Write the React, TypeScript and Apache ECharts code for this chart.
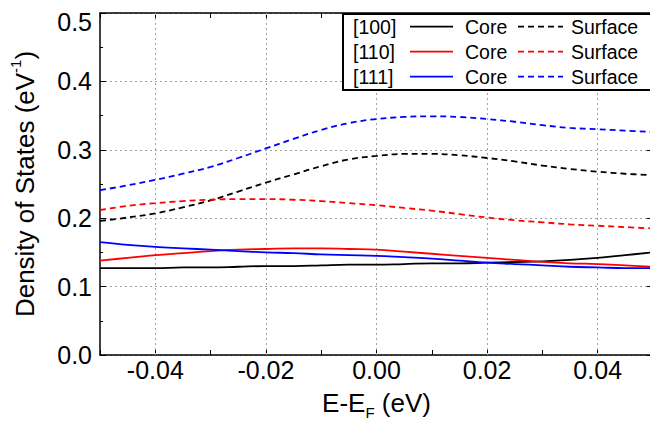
import React, { useEffect, useRef } from "react";
import * as echarts from "echarts";

// Energy grid (E - E_F, eV)
const X = [-0.05, -0.045, -0.04, -0.035, -0.03, -0.025, -0.02, -0.015, -0.01, -0.005, 0, 0.005, 0.01, 0.015, 0.02, 0.025, 0.03, 0.035, 0.04, 0.045, 0.05];

// Density of states (eV^-1)
const CORE_100 = [0.127, 0.127, 0.127, 0.128, 0.128, 0.129, 0.130, 0.130, 0.131, 0.132, 0.132, 0.133, 0.134, 0.134, 0.135, 0.136, 0.137, 0.139, 0.142, 0.146, 0.150];
const SURF_100 = [0.196, 0.201, 0.207, 0.216, 0.226, 0.239, 0.252, 0.264, 0.276, 0.286, 0.291, 0.294, 0.294, 0.292, 0.288, 0.283, 0.277, 0.272, 0.268, 0.265, 0.263];
const CORE_110 = [0.138, 0.142, 0.146, 0.149, 0.152, 0.154, 0.155, 0.156, 0.156, 0.155, 0.154, 0.151, 0.148, 0.145, 0.142, 0.139, 0.136, 0.134, 0.133, 0.131, 0.129];
const SURF_110 = [0.212, 0.218, 0.222, 0.225, 0.227, 0.228, 0.228, 0.227, 0.225, 0.222, 0.219, 0.215, 0.211, 0.206, 0.201, 0.197, 0.194, 0.191, 0.189, 0.187, 0.185];
const CORE_111 = [0.165, 0.161, 0.158, 0.156, 0.154, 0.152, 0.150, 0.149, 0.147, 0.146, 0.145, 0.143, 0.141, 0.138, 0.135, 0.133, 0.131, 0.129, 0.128, 0.127, 0.127];
const SURF_111 = [0.241, 0.248, 0.256, 0.265, 0.275, 0.288, 0.302, 0.316, 0.329, 0.339, 0.345, 0.348, 0.349, 0.348, 0.345, 0.341, 0.336, 0.332, 0.330, 0.328, 0.326];

const X_GRID = [-0.04, -0.02, 0, 0.02, 0.04];
const ORIENTATIONS = ["[100]", "[110]", "[111]"];
const KINDS = ["Core", "Surface"];
const COLORS = ["#000000", "#ff0000", "#0000ff"];

const FONT = "'Liberation Sans', Arial, sans-serif";

export default function App() {
  const ref = useRef<HTMLDivElement>(null);
  useEffect(() => {
    if (!ref.current) return;
    const chart = echarts.init(ref.current, undefined, { renderer: "svg" });
    const pairs = (ys: number[]) => X.map((x, i) => [x, ys[i]]);
    const groups = [
      [CORE_100, SURF_100],
      [CORE_110, SURF_110],
      [CORE_111, SURF_111],
    ];
    const series: any[] = [];
    groups.forEach((g, gi) => {
      g.forEach((ys, ki) => {
        series.push({
          name: `${ORIENTATIONS[gi]} ${KINDS[ki]}`,
          type: "line",
          data: pairs(ys),
          smooth: 0.4,
          showSymbol: false,
          symbol: "none",
          lineStyle: { color: COLORS[gi], width: 1.8, type: ki === 0 ? "solid" : [6, 4] },
          itemStyle: { color: COLORS[gi] },
          z: 5,
        });
      });
    });
    // vertical grid lines at major x ticks
    series.push({
      name: "xgrid",
      type: "line",
      data: [],
      z: 1,
      markLine: {
        silent: true,
        symbol: "none",
        animation: false,
        label: { show: false },
        lineStyle: { color: "#a0a0a0", width: 1, type: [2, 3] },
        data: X_GRID.map((v) => ({ xAxis: v })),
      },
    });

    const rowY = [26.7, 51.7, 76.7];
    const legendEls: any[] = [
      {
        type: "rect",
        shape: { x: 343, y: 14, width: 330, height: 76 },
        style: { fill: "#ffffff", stroke: "#000000", lineWidth: 2 },
        z: 100,
      },
    ];
    const tStyle = (text: string) => ({ text, fontSize: 19.5, fontFamily: FONT, fill: "#000", verticalAlign: "middle", align: "left" });
    ORIENTATIONS.forEach((o, i) => {
      const y = rowY[i];
      legendEls.push(
        { type: "text", x: 353, y, z: 101, style: tStyle(o) },
        { type: "line", z: 101, shape: { x1: 410, y1: y, x2: 453, y2: y }, style: { stroke: COLORS[i], lineWidth: 1.8 } },
        { type: "text", x: 465, y, z: 101, style: tStyle(KINDS[0]) },
        { type: "line", z: 101, shape: { x1: 518, y1: y, x2: 563, y2: y }, style: { stroke: COLORS[i], lineWidth: 1.8, lineDash: [6, 4] } },
        { type: "text", x: 571, y, z: 101, style: tStyle(KINDS[1]) }
      );
    });

    const xFmt = (v: number) => {
      const k = Math.round(v * 100);
      if (k % 2 !== 0 || Math.abs(k) >= 5) return "";
      if (k === 0) return "0.00";
      return (k / 100).toFixed(2);
    };
    const yFmt = (v: number) => {
      const s = v.toFixed(1);
      return Math.round(v * 10) === 5 ? `{t|${s}}` : s;
    };

    const axisLine = { show: true, onZero: false, lineStyle: { color: "#000", width: 1.5 } };

    chart.setOption({
      animation: false,
      backgroundColor: "#ffffff",
      textStyle: { fontFamily: FONT },
      grid: { left: 100, right: -3, top: 13, bottom: 67, containLabel: false, outerBoundsMode: "none" },
      xAxis: [
        {
          type: "value",
          min: -0.05,
          max: 0.05,
          interval: 0.01,
          position: "bottom",
          axisLine,
          axisTick: { show: true, inside: true, length: 5, lineStyle: { color: "#000", width: 1 } },
          axisLabel: { formatter: xFmt, fontSize: 25, color: "#000", fontFamily: FONT, margin: 2 },
          splitLine: { show: false },
          name: "{a|E-E}{s|F}{a| (eV)}",
          nameLocation: "middle",
          nameGap: 35,
          nameTextStyle: {
            rich: {
              a: { fontSize: 26, fontFamily: FONT, color: "#000", lineHeight: 26, verticalAlign: "bottom" },
              s: { fontSize: 15, fontFamily: FONT, color: "#000", lineHeight: 26, verticalAlign: "bottom", padding: [0, 0, -4, 0] },
            },
          },
        },
        {
          type: "value",
          min: -0.05,
          max: 0.05,
          interval: 0.01,
          position: "top",
          axisLine,
          axisTick: { show: true, inside: true, length: 5, lineStyle: { color: "#000", width: 1 } },
          axisLabel: { show: false },
          splitLine: { show: false },
        },
      ],
      yAxis: [
        {
          type: "value",
          min: 0,
          max: 0.5,
          interval: 0.1,
          position: "left",
          axisLine,
          axisTick: { show: true, inside: true, length: 6, lineStyle: { color: "#000", width: 1 } },
          minorTick: { show: true, splitNumber: 2, length: 3, lineStyle: { color: "#000", width: 1 } },
          axisLabel: {
            formatter: yFmt,
            fontSize: 25,
            color: "#000",
            fontFamily: FONT,
            margin: 8,
            rich: { t: { fontSize: 25, fontFamily: FONT, color: "#000", padding: [18, 0, 0, 0] } },
          },
          splitLine: { show: true, lineStyle: { color: "#a0a0a0", width: 1, type: [2, 3] } },
          name: "{a|Density of States (eV}{p|-1}{a|)}",
          nameLocation: "middle",
          nameGap: 62,
          nameTextStyle: {
            rich: {
              a: { fontSize: 26, fontFamily: FONT, color: "#000", lineHeight: 30, verticalAlign: "bottom" },
              p: { fontSize: 15, fontFamily: FONT, color: "#000", lineHeight: 30, verticalAlign: "top" },
            },
          },
        },
        {
          type: "value",
          min: 0,
          max: 0.5,
          interval: 0.1,
          position: "right",
          axisLine,
          axisTick: { show: true, inside: true, length: 6 },
          axisLabel: { show: false },
          splitLine: { show: false },
        },
      ],
      graphic: legendEls,
      series,
    });
    return () => chart.dispose();
  }, []);
  return (
    <div
      ref={ref}
      style={{ position: "fixed", left: 0, top: 0, width: 650, height: 422, background: "#fff" }}
    />
  );
}
